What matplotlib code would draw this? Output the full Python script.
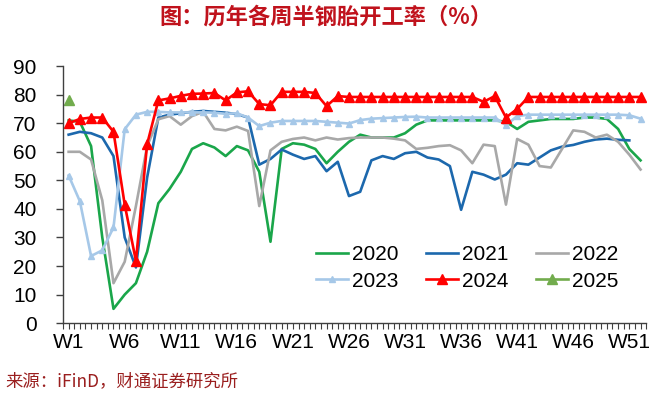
import matplotlib
matplotlib.use("Agg")
import matplotlib.pyplot as plt
from matplotlib.ticker import MultipleLocator

# weekly semi-steel tyre operating rate (%)
weeks = list(range(1, 53))
week_labels = ["W1", "W6", "W11", "W16", "W21", "W26", "W31", "W36", "W41", "W46", "W51"]
label_pos = [1, 6, 11, 16, 21, 26, 31, 36, 41, 46, 51]

y2020 = [71, 70.5, 62, 30, 5, 10, 14, 25, 42, 47, 53, 61, 63, 61.5, 58.5, 62, 60.5, 53,
         28.5, 61, 63, 62.5, 61, 56, 60, 63.5, 66, 65, 65, 65, 66.5, 69.5, 71, 71, 71, 71,
         71, 71, 71, 70.5, 68, 70.5, 71, 71.5, 71.5, 71.5, 72, 72, 71.5, 68, 61, 57]
y2021 = [66, 67, 66.5, 65, 58.5, 30, 19.5, 51, 72, 73, 73.5, 74, 74.3, 74, 73.7, 73.2,
         72, 55.5, 57.5, 60.8, 59, 57.5, 58.5, 53.2, 56.5, 44.5, 46, 57, 58.5, 57.5, 59.5,
         60, 58, 57.3, 55, 39.7, 53, 52, 50.3, 52, 56, 55.5, 58, 60.5, 61.8, 62.4, 63.5,
         64.3, 64.6, 64.2, 64]
y2022 = [60, 60, 57.3, 43, 14, 21.5, 41, 62, 71.4, 72.5, 69.5, 72.5, 74, 68, 67.5, 68.8,
         67.3, 41, 60.5, 63.5, 64.5, 65, 64, 65, 64.3, 64.8, 65, 65, 65, 64.6, 64, 61,
         61.4, 62, 62.3, 60.5, 56, 62.5, 62, 41.5, 64.5, 62.5, 55, 54.5, 61, 67.5, 67, 65,
         66, 63.5, 59, 53.8]
y2023 = [51.7, 42.7, 23.5, 25.5, 33.5, 67.9, 73, 74, 74, 73.8, 73.8, 73.8, 73.8, 73.7,
         73.3, 73.5, 72, 69, 70.2, 70.8, 70.8, 70.8, 70.8, 70.5, 70.2, 69.9, 71.1, 71.6,
         71.8, 72, 72.2, 72.3, 72, 72, 72, 72, 72, 72, 72, 69.3, 72.5, 73, 73, 73, 73, 73,
         73, 73, 73, 73, 72.8, 71.6]
y2024 = [70, 71.5, 72, 72, 67, 41.5, 21.8, 62.7, 78, 78.7, 79.6, 80.3, 80.4, 80.6, 78,
         80.8, 81.2, 76.7, 76.3, 81, 81, 81, 80.6, 76, 79.5, 79.2, 79.2, 79.2, 79.2, 79.2,
         79.2, 79.2, 79.2, 79.2, 79.2, 79.2, 79.2, 77.5, 79.5, 72, 75, 79.2, 79.2, 79.2,
         79.2, 79.2, 79.2, 79.2, 79.2, 79.2, 79.2, 79.2]
y2025 = [78]


def main():
    plt.rcParams["font.family"] = ["Liberation Sans", "Noto Sans CJK SC", "DejaVu Sans"]

    fig = plt.figure(figsize=(6.6, 3.96), dpi=100)
    ax = fig.add_axes([0.0955, 0.184, 0.8835, 0.649])

    l20, = ax.plot(weeks, y2020, color="#1AA64A", lw=1.9, label="2020")
    l21, = ax.plot(weeks[:len(y2021)], y2021, color="#1C68AD", lw=1.9, label="2021")
    l22, = ax.plot(weeks, y2022, color="#A8A8A8", lw=1.9, label="2022")
    l23, = ax.plot(weeks, y2023, color="#A6C8E8", lw=1.9, marker="^", ms=4, label="2023")
    l24, = ax.plot(weeks, y2024, color="#FF0000", lw=1.9, marker="^", ms=7, label="2024")
    l25, = ax.plot(weeks[:len(y2025)], y2025, color="#72AC4D", lw=1.9, marker="^",
                   ms=6.5, label="2025")

    ax.set_xlim(0.5, 52.5)
    ax.set_ylim(0, 90)
    ax.set_yticks(range(0, 91, 10))
    ax.set_xticks(label_pos)
    ax.set_xticklabels(week_labels)
    ax.xaxis.set_minor_locator(MultipleLocator(0.5))

    for s in ["top", "right"]:
        ax.spines[s].set_visible(False)
    for s in ["left", "bottom"]:
        ax.spines[s].set_color("#404040")
        ax.spines[s].set_linewidth(1.0)

    ax.tick_params(axis="y", labelsize=15, length=5, width=1, color="#404040", pad=14)
    ax.tick_params(axis="x", which="both", labelsize=15, length=4, width=0.8,
                   color="#404040", pad=3)

    # matplotlib fills legend columns first, so reorder to get rows 2020-2022 / 2023-2025
    handles = [l20, l23, l21, l24, l22, l25]
    ax.legend(handles=handles, labels=[h.get_label() for h in handles], ncol=3,
              loc="center", bbox_to_anchor=(0.708, 0.323),
              bbox_transform=fig.transFigure, frameon=False, fontsize=15,
              handlelength=1.55, handletextpad=0.2, columnspacing=1.3,
              labelspacing=0.35, borderpad=0)

    fig.text(0.494, 0.957, "图：历年各周半钢胎开工率（%）", ha="center", va="center",
             fontsize=16, fontweight="bold", color="#C0121C",
             family=["Noto Sans CJK SC", "DejaVu Sans"])
    fig.text(0.008, 0.038, "来源：iFinD，财通证券研究所", ha="left", va="center",
             fontsize=12.5, color="#9A1E1E", family=["Noto Sans CJK SC", "DejaVu Sans"])

    fig.savefig("out.png", dpi=100)


if __name__ == "__main__":
    main()
